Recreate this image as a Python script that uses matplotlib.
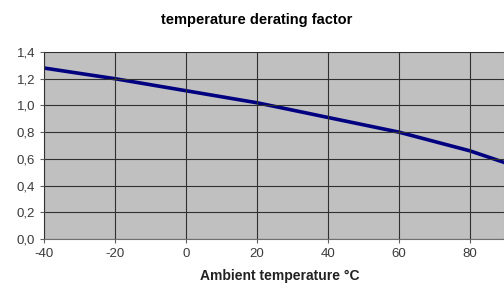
import matplotlib
matplotlib.use("Agg")
import matplotlib.pyplot as plt
from matplotlib.ticker import FuncFormatter

plt.rcParams['font.family'] = ['Liberation Sans', 'DejaVu Sans']
plt.rcParams['axes.unicode_minus'] = False

# values
temp_c = [-40, -20, 0, 20, 40, 60, 80, 90]
factor = [1.28, 1.20, 1.11, 1.02, 0.91, 0.80, 0.66, 0.57]
x_ticks = [-40, -20, 0, 20, 40, 60, 80]
y_ticks = [0.0, 0.2, 0.4, 0.6, 0.8, 1.0, 1.2, 1.4]

fig = plt.figure(figsize=(5.04, 2.91), dpi=100)
ax = fig.add_axes([44/504, 1 - 239/291, 1 - 44/504, (239 - 52)/291])
ax.set_facecolor('#c0c0c0')

ax.plot(temp_c, factor, color='#000080', lw=2.6, solid_capstyle='butt')

ax.set_xlim(-40, 89.6)
ax.set_ylim(0, 1.4)
ax.set_xticks(x_ticks)
ax.set_yticks(y_ticks)
ax.yaxis.set_major_formatter(FuncFormatter(lambda v, p: f"{v:.1f}".replace('.', ',')))
ax.grid(True, color='#303030', lw=0.8)
ax.set_axisbelow(False)

for s in ['top', 'right']:
    ax.spines[s].set_color('#a0a0a0')
for s in ['left', 'bottom']:
    ax.spines[s].set_color('#707070')
ax.tick_params(colors='#606060', labelcolor='#3a3a3a', labelsize=9.5, length=3, width=0.8)

fig.text(257/504, 1 - 20/291, 'temperature derating factor', ha='center', va='center',
         fontsize=10.5, fontweight='bold')
fig.text(280/504, 1 - 276/291, 'Ambient temperature °C', ha='center', va='center',
         fontsize=10, fontweight='bold', color='#222222')

fig.savefig('out.png', dpi=100)
